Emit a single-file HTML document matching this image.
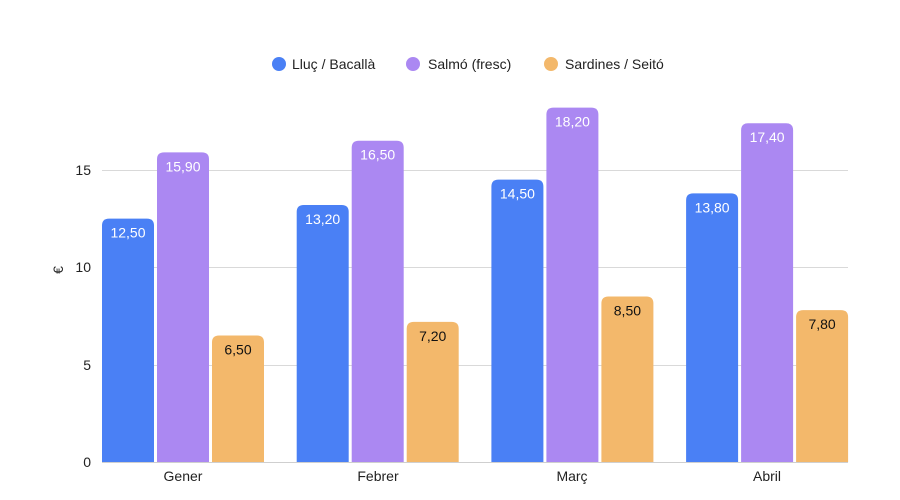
<!DOCTYPE html><html><head><style>body{margin:0;background:#fff}svg{display:block;font-family:"Liberation Sans",sans-serif}</style></head><body>
<svg width="900" height="500" xmlns="http://www.w3.org/2000/svg">
<g stroke="#d9d9d9" stroke-width="1"><line x1="102" x2="848" y1="170.5" y2="170.5"/><line x1="102" x2="848" y1="267.5" y2="267.5"/><line x1="102" x2="848" y1="365.5" y2="365.5"/></g>
<g font-size="14" fill="#222" text-anchor="end"><text x="91" y="175">15</text><text x="91" y="272">10</text><text x="91" y="370">5</text><text x="91" y="467">0</text></g>
<text transform="translate(63,270) rotate(-90)" font-size="14" fill="#222" text-anchor="middle">€</text>
<g font-size="14" fill="#222"><circle cx="279" cy="64" r="7" fill="#4a80f5"/><text x="292" y="69">Lluç / Bacallà</text><circle cx="413" cy="64" r="7" fill="#ab88f2"/><text x="428" y="69">Salmó (fresc)</text><circle cx="551" cy="64" r="7" fill="#f3b86b"/><text x="565" y="69">Sardines / Seitó</text></g>
<g id="bars"></g>
<line x1="102" x2="848" y1="462.5" y2="462.5" stroke="#cfcfcf"/>
<g font-size="14" fill="#222" text-anchor="middle"><text x="183" y="481">Gener</text><text x="378" y="481">Febrer</text><text x="572" y="481">Març</text><text x="767" y="481">Abril</text></g>
</svg>
<script>
var d=[[12.5,15.9,6.5],[13.2,16.5,7.2],[14.5,18.2,8.5],[13.8,17.4,7.8]],c=["#4a80f5","#ab88f2","#f3b86b"],tc=["#fff","#fff","#111"],s="";
d.forEach(function(g,i){g.forEach(function(v,j){var x=102+i*194.7+j*55,h=v*19.47,y=462-h;
s+='<path d="M'+x+' 462V'+(y+7)+'Q'+x+' '+y+' '+(x+7)+' '+y+'H'+(x+45)+'Q'+(x+52)+' '+y+' '+(x+52)+' '+(y+7)+'V462Z" fill="'+c[j]+'"/>';
s+='<text x="'+(x+26)+'" y="'+(y+19)+'" font-size="14" text-anchor="middle" fill="'+tc[j]+'">'+v.toFixed(2).replace(".",",")+'</text>';});});
document.getElementById("bars").innerHTML=s;
</script>
</body></html>
